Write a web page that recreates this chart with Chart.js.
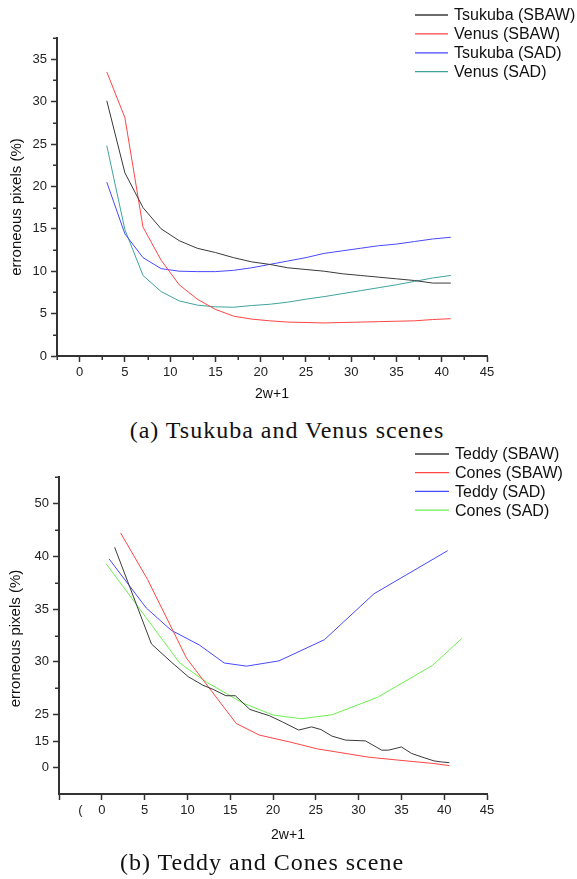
<!DOCTYPE html>
<html><head><meta charset="utf-8">
<script src="https://cdn.jsdelivr.net/npm/chart.js@4"></script>
<style>
html,body{margin:0;padding:0;background:#fff;width:577px;height:879px;overflow:hidden}
.wrap{position:absolute;left:0;width:577px}
.cap{position:absolute;font-family:"Liberation Serif","Times New Roman",serif;font-size:24px;letter-spacing:1px;color:#111;white-space:nowrap;transform:translateX(-50%);line-height:26px}
</style></head><body>
<div class="wrap" style="top:0;height:410px"><canvas id="c1" width="577" height="410"></canvas></div>
<div class="cap" style="left:287px;top:417px">(a) Tsukuba and Venus scenes</div>
<div class="wrap" style="top:440px;height:410px"><canvas id="c2" width="577" height="410"></canvas></div>
<div class="cap" style="left:262px;top:849px">(b) Teddy and Cones scene</div>
<script>
// ---------- Top chart data (a) ----------
const topWindow = [3,5,7,9,11,13,15,17,19,21,23,25,27,29,31,33,35,37,39,41];
const tsukubaSBAW = [30.1,21.6,17.5,15.0,13.6,12.7,12.2,11.6,11.1,10.8,10.4,10.2,10.0,9.7,9.5,9.3,9.1,8.9,8.6,8.6];
const venusSBAW   = [33.5,28.1,15.2,11.3,8.4,6.7,5.5,4.7,4.35,4.15,4.0,3.95,3.9,3.95,4.0,4.05,4.1,4.15,4.3,4.4];
const tsukubaSAD  = [20.5,14.4,11.6,10.3,10.0,9.95,9.95,10.1,10.4,10.8,11.2,11.6,12.1,12.4,12.7,13.0,13.2,13.5,13.8,14.0];
const venusSAD    = [24.8,14.9,9.5,7.6,6.5,6.0,5.8,5.75,5.95,6.1,6.35,6.7,7.0,7.35,7.7,8.05,8.4,8.8,9.2,9.5];
const topXTicks = [0,5,10,15,20,25,30,35,40,45];
const topXMinor = [-2.5,2.5,7.5,12.5,17.5,22.5,27.5,32.5,37.5,42.5];
const topYTicks = [0,5,10,15,20,25,30,35];
const topYMinor = [2.5,7.5,12.5,17.5,22.5,27.5,32.5,37.5];

// ---------- Bottom chart data (b) ----------
const teddySBAW_x = [1.5,5.8,8.1,10.1,11.8,13.0,14.5,15.6,17.3,19.6,21.1,23.0,24.5,25.6,26.9,28.5,30.8,32.7,33.5,35.0,36.2,37.4,38.8,39.7,40.6];
const teddySBAW_y = [41.7,31.7,30.0,28.6,27.8,27.4,26.8,26.8,25.5,24.6,22.3,19.2,20.4,19.4,16.9,15.4,15.1,9.9,9.9,11.7,8.0,6.0,3.8,3.2,2.8];
const conesSBAW_x = [2.2,5.35,9.9,15.7,18.4,21.9,25.2,31.2,34.7,38.8,40.6];
const conesSBAW_y = [44.4,37.8,30.35,21.7,17.3,14.6,10.6,5.9,4.2,2.3,1.1];
const teddySAD_x  = [0.85,5.2,8.1,11.4,14.3,16.9,20.7,26.0,31.8,40.4];
const teddySAD_y  = [39.75,35.1,33.0,31.6,29.9,29.6,30.1,32.1,36.45,41.05];
const conesSAD_x  = [0.5,9.1,12.2,16.5,20.0,23.3,26.9,32.2,38.6,42.1];
const conesSAD_y  = [39.3,29.9,28.1,26.1,24.9,23.5,25.0,26.65,29.65,32.25];
const botXTicks  = [-5,-2.5,0,5,10,15,20,25,30,35,40,45];
const botXLabels = ['','(','0','5','10','15','20','25','30','35','40','45'];
// the y axis of (b) is not uniform: labels and their positions on the axis
const botYLabels = [0,15,25,30,35,40,50];
const botYPos    = [0,1,2,4,6,8,10];
const botYMinor  = [3,5,7,9,11];

function toPos(v){
  for(let i=0;i<botYLabels.length-1;i++){
    const a=botYLabels[i], b=botYLabels[i+1];
    if(v<=b || i===botYLabels.length-2){
      return botYPos[i] + (v-a)/(b-a)*(botYPos[i+1]-botYPos[i]);
    }
  }
}
const pts = (xs, ys, f) => xs.map((x,i)=>({x:x, y: f ? f(ys[i]) : ys[i]}));

const FONT = '"Liberation Sans", Arial, sans-serif';
const AXIS = '#333333';

const minorTicks = {
  id:'minorTicks',
  afterDraw(chart, args, o){
    const ctx=chart.ctx, ca=chart.chartArea, sx=chart.scales.x, sy=chart.scales.y;
    ctx.save(); ctx.strokeStyle=AXIS; ctx.lineWidth=1.5;
    (o.x||[]).forEach(v=>{const p=Math.round(sx.getPixelForValue(v))+0.25; ctx.beginPath(); ctx.moveTo(p,ca.bottom); ctx.lineTo(p,ca.bottom+o.len+1); ctx.stroke();});
    (o.y||[]).forEach(v=>{const p=Math.round(sy.getPixelForValue(v))+0.25; ctx.beginPath(); ctx.moveTo(ca.left,p); ctx.lineTo(ca.left-o.len-1,p); ctx.stroke();});
    ctx.restore();
  }
};
const boxLegend = {
  id:'boxLegend',
  afterDraw(chart, args, o){
    const ctx=chart.ctx;
    ctx.save();
    ctx.font = '16px ' + FONT; ctx.textBaseline='middle'; ctx.textAlign='left';
    chart.data.datasets.forEach((d,i)=>{
      const y = o.y + i*o.step;
      ctx.strokeStyle=d.borderColor; ctx.lineWidth=1.3;
      ctx.beginPath(); ctx.moveTo(o.x1,y); ctx.lineTo(o.x2,y); ctx.stroke();
      ctx.fillStyle='#111'; ctx.fillText(d.label, o.tx, y+1);
    });
    ctx.restore();
  }
};
// axis titles, placed relative to the chart area
const axisTitles = {
  id:'axisTitles',
  afterDraw(chart, args, o){
    const ctx=chart.ctx, ca=chart.chartArea;
    ctx.save(); ctx.fillStyle='#111'; ctx.textAlign='center'; ctx.textBaseline='middle';
    ctx.font = '14px ' + FONT;
    ctx.fillText(o.xText, (ca.left+ca.right)/2 + o.xdx, o.xy);
    ctx.translate(o.yx, (ca.top+ca.bottom)/2 + o.ydy);
    ctx.rotate(-Math.PI/2);
    ctx.font = '15px ' + FONT;
    ctx.fillText(o.yText, 0, 0);
    ctx.restore();
  }
};

function axisCommon(){
  return {
    grid:{drawOnChartArea:false, drawTicks:true, tickLength:6, tickColor:AXIS, tickWidth:1.5},
    border:{display:true, color:AXIS, width:2},
    ticks:{color:'#222', font:{family:FONT, size:13}, autoSkip:false, maxRotation:0, minRotation:0}
  };
}
function ds(label, color, data){
  return {label, data, borderColor:color, backgroundColor:color, borderWidth:1, pointRadius:0, tension:0, fill:false};
}
const C_BLACK='#3a3a3a', C_RED='#ff4545', C_BLUE='#4848ff', C_TEAL='#3fa39c', C_GREEN='#6cf050';

// ---------- Chart (a) ----------
const xA = axisCommon(), yA = axisCommon();
Object.assign(xA, {type:'linear', min:-2.5, max:45,
  afterBuildTicks:s=>{s.ticks=topXTicks.map(v=>({value:v}));},
  afterFit:s=>{s.height=54;}});
xA.ticks.padding=3;
Object.assign(yA, {type:'linear', min:0, max:37.5,
  afterBuildTicks:s=>{s.ticks=topYTicks.map(v=>({value:v}));},
  afterFit:s=>{s.width=57;}});
yA.ticks.padding=4;

new Chart(document.getElementById('c1'), {
  type:'line',
  data:{datasets:[
    ds('Tsukuba (SBAW)', C_BLACK, pts(topWindow, tsukubaSBAW)),
    ds('Venus (SBAW)',   C_RED,   pts(topWindow, venusSBAW)),
    ds('Tsukuba (SAD)',  C_BLUE,  pts(topWindow, tsukubaSAD)),
    ds('Venus (SAD)',    C_TEAL,  pts(topWindow, venusSAD))
  ]},
  options:{responsive:false, animation:false, devicePixelRatio:1,
    layout:{padding:{left:0, right:90, top:38, bottom:0}},
    scales:{x:xA, y:yA},
    plugins:{legend:{display:false}, tooltip:{enabled:false},
      minorTicks:{x:topXMinor, y:topYMinor, len:3},
      boxLegend:{x1:415, x2:448, tx:454, y:15, step:18.9},
      axisTitles:{xText:'2w+1', xdx:0, xy:394, yText:'erroneous pixels (%)', yx:17, ydy:10}}
  },
  plugins:[minorTicks, boxLegend, axisTitles]
});

// ---------- Chart (b) ----------
const xB = axisCommon(), yB = axisCommon();
Object.assign(xB, {type:'linear', min:-5, max:45,
  afterBuildTicks:s=>{s.ticks=botXTicks.map(v=>({value:v}));},
  afterFit:s=>{s.height=56;}});
xB.ticks.padding=3;
xB.ticks.callback = v => botXLabels[botXTicks.indexOf(v)];
xB.grid.tickColor = c => (c.tick && c.tick.value===-2.5) ? 'rgba(0,0,0,0)' : AXIS;
Object.assign(yB, {type:'linear', min:-1, max:11,
  afterBuildTicks:s=>{s.ticks=botYPos.map(v=>({value:v}));},
  afterFit:s=>{s.width=59;}});
yB.ticks.padding=4;
yB.ticks.callback = v => String(botYLabels[botYPos.indexOf(v)]);

new Chart(document.getElementById('c2'), {
  type:'line',
  data:{datasets:[
    ds('Teddy (SBAW)', C_BLACK, pts(teddySBAW_x, teddySBAW_y, toPos)),
    ds('Cones (SBAW)', C_RED,   pts(conesSBAW_x, conesSBAW_y, toPos)),
    ds('Teddy (SAD)',  C_BLUE,  pts(teddySAD_x, teddySAD_y, toPos)),
    ds('Cones (SAD)',  C_GREEN, pts(conesSAD_x, conesSAD_y, toPos))
  ]},
  options:{responsive:false, animation:false, devicePixelRatio:1,
    layout:{padding:{left:0, right:90, top:37, bottom:0}},
    scales:{x:xB, y:yB},
    plugins:{legend:{display:false}, tooltip:{enabled:false},
      minorTicks:{x:[], y:botYMinor, len:3},
      boxLegend:{x1:415, x2:449, tx:455, y:14, step:18.7},
      axisTitles:{xText:'2w+1', xdx:15, xy:395, yText:'erroneous pixels (%)', yx:16, ydy:3}}
  },
  plugins:[minorTicks, boxLegend, axisTitles]
});
</script>
</body></html>
